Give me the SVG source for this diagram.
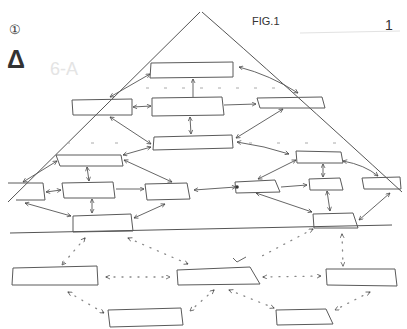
<svg xmlns="http://www.w3.org/2000/svg" width="407" height="329" viewBox="0 0 407 329">
<style>
.n{fill:none;stroke:#5a5a5a;stroke-width:1}
.c{fill:none;stroke:#555;stroke-width:0.9}
.d{fill:none;stroke:#888;stroke-width:1.3;stroke-dasharray:1 7;stroke-linecap:round}
.g{fill:none;stroke:#555;stroke-width:1}
.t{font-family:"Liberation Sans",sans-serif;fill:#333}
</style>
<defs>
<marker id="a" viewBox="0 0 10 10" refX="9" refY="5" markerWidth="5" markerHeight="5" orient="auto-start-reverse" markerUnits="userSpaceOnUse">
<path d="M1,1 L9,5 L1,9" fill="none" stroke="#444" stroke-width="1.4"/>
</marker>
</defs>
<rect width="407" height="329" fill="#fff"/>
<g id="frame">
<path class="g" d="M200,12 L8,202"/>
<path class="g" d="M202,12 Q280,80 402,192"/>
<path class="g" d="M10,233 L392,225"/>
<path d="M300,33 L400,31" stroke="#e2e2e2" stroke-width="1" fill="none"/>
<path d="M146,88 L282,88" stroke="#aaa" stroke-width="1" stroke-dasharray="3 15" fill="none"/>
<path d="M67,143 L118,143" stroke="#aaa" stroke-width="1" stroke-dasharray="3 21" fill="none"/>
<path d="M249,143 L337,143" stroke="#aaa" stroke-width="1" stroke-dasharray="3 25" fill="none"/>
</g>
<g id="labels">
<text class="t" x="9" y="34" font-size="13" font-family="DejaVu Sans, 'Noto Sans CJK JP', sans-serif">①</text>
<text class="t" x="7" y="68" font-size="25" font-weight="bold" fill="#111">Δ</text>
<text class="t" x="50" y="75" font-size="18" style="fill:#e4e4e4">6-A</text>
<text class="t" x="252" y="25" font-size="11">FIG.1</text>
<text class="t" x="385" y="30" font-size="14">1</text>
</g>
<g id="connectors">
<path class="c" d="M110,97 L150,74" marker-start="url(#a)" marker-end="url(#a)"/>
<path class="c" d="M193,97 L193,79" marker-end="url(#a)"/>
<path class="c" d="M298,93 Q270,75 239,67" marker-start="url(#a)" marker-end="url(#a)"/>
<path class="c" d="M133,107 L151,106" marker-start="url(#a)" marker-end="url(#a)"/>
<path class="c" d="M224,105 L256,104" marker-end="url(#a)"/>
<path class="c" d="M190,117 L191,134" marker-start="url(#a)" marker-end="url(#a)"/>
<path class="c" d="M110,117 L151,144" marker-start="url(#a)" marker-end="url(#a)"/>
<path class="c" d="M283,109 L236,138" marker-start="url(#a)" marker-end="url(#a)"/>
<path class="c" d="M151,147 L123,155" marker-start="url(#a)" marker-end="url(#a)"/>
<path class="c" d="M237,142 Q265,146 289,154" marker-start="url(#a)" marker-end="url(#a)"/>
<path class="c" d="M57,161 L23,182" marker-start="url(#a)" marker-end="url(#a)"/>
<path class="c" d="M87,167 L89,181" marker-start="url(#a)" marker-end="url(#a)"/>
<path class="c" d="M124,160 L172,182" marker-start="url(#a)" marker-end="url(#a)"/>
<path class="c" d="M46,192 L61,190" marker-start="url(#a)" marker-end="url(#a)"/>
<path class="c" d="M116,189 L144,189" marker-end="url(#a)"/>
<path class="c" d="M194,190 L236,187" marker-start="url(#a)" marker-end="url(#a)"/>
<circle cx="237" cy="187" r="1.8" fill="#333"/>
<path class="c" d="M281,187 L307,185" marker-end="url(#a)"/>
<path class="c" d="M258,179 L296,160" marker-start="url(#a)" marker-end="url(#a)"/>
<path class="c" d="M323,177 L323,164" marker-start="url(#a)" marker-end="url(#a)"/>
<path class="c" d="M343,161 Q365,165 378,176" marker-start="url(#a)" marker-end="url(#a)"/>
<path class="c" d="M327,191 L330,211" marker-start="url(#a)" marker-end="url(#a)"/>
<path class="c" d="M256,193 L312,212" marker-start="url(#a)" marker-end="url(#a)"/>
<path class="c" d="M390,193 L359,220" marker-start="url(#a)" marker-end="url(#a)"/>
<path class="c" d="M92,199 L92,213" marker-start="url(#a)" marker-end="url(#a)"/>
<path class="c" d="M71,216 L25,203" marker-start="url(#a)" marker-end="url(#a)"/>
<path class="c" d="M134,218 L165,204" marker-start="url(#a)" marker-end="url(#a)"/>
<path class="d" d="M85,238 L62,265" marker-start="url(#a)" marker-end="url(#a)"/>
<path class="d" d="M128,238 L188,264" marker-start="url(#a)" marker-end="url(#a)"/>
<path class="d" d="M313,229 L262,256" marker-start="url(#a)"/>
<path class="c" d="M233,258 L237,262 L246,257"/>
<path class="d" d="M342,234 L343,266" marker-start="url(#a)" marker-end="url(#a)"/>
<path class="d" d="M106,277 L170,277" marker-start="url(#a)" marker-end="url(#a)"/>
<path class="d" d="M263,277 L321,276" marker-start="url(#a)" marker-end="url(#a)"/>
<path class="d" d="M68,292 L104,313" marker-start="url(#a)" marker-end="url(#a)"/>
<path class="d" d="M214,290 L190,311" marker-start="url(#a)" marker-end="url(#a)"/>
<path class="d" d="M229,290 L274,308" marker-start="url(#a)" marker-end="url(#a)"/>
<path class="d" d="M370,292 L335,310" marker-start="url(#a)" marker-end="url(#a)"/>
</g>
<g id="b1"><path class="n" d="M151,63 L233,62 L233,77 L150,78 Z"/></g>
<g id="b2"><path class="n" d="M72,100 L132,99 L132,115 L73,115 Z"/></g>
<g id="b3"><path class="n" d="M152,98 L222,97 L224,115 L152,116 Z"/></g>
<g id="b4"><path class="n" d="M257,98 L322,97 L325,108 L260,108 Z"/></g>
<g id="b5"><path class="n" d="M154,137 L232,135 L233,148 L153,150 Z"/></g>
<g id="b6"><path class="n" d="M56,155 L121,155 L123,166 L60,166 Z"/></g>
<g id="b7"><path class="n" d="M296,151 L341,152 L343,163 L297,163 Z"/></g>
<g id="b8"><path class="n" d="M8,183 L43,183 L45,200 L16,200"/></g>
<g id="b9"><path class="n" d="M62,183 L113,182 L115,198 L64,198 Z"/></g>
<g id="b10"><path class="n" d="M145,184 L187,183 L190,199 L147,200 Z"/></g>
<g id="b11"><path class="n" d="M235,182 L275,180 L280,192 L236,193 Z"/></g>
<g id="b12"><path class="n" d="M309,179 L340,178 L343,190 L310,190 Z"/></g>
<g id="b13"><path class="n" d="M362,178 L400,177 L401,189 L364,189 Z"/></g>
<g id="b14"><path class="n" d="M73,216 L131,214 L133,231 L73,232 Z"/></g>
<g id="b15"><path class="n" d="M313,214 L353,213 L358,228 L314,228 Z"/></g>
<g id="b16"><path class="n" d="M13,268 L97,266 L98,285 L12,285 Z"/></g>
<g id="b17"><path class="n" d="M177,270 L250,267 L260,284 L178,285 Z"/></g>
<g id="b18"><path class="n" d="M326,269 L395,269 L397,286 L327,285 Z"/></g>
<g id="b19"><path class="n" d="M108,310 L181,308 L183,325 L110,327 Z"/></g>
<g id="b20"><path class="n" d="M276,310 L326,309 L333,324 L277,325 Z"/></g>
</svg>
